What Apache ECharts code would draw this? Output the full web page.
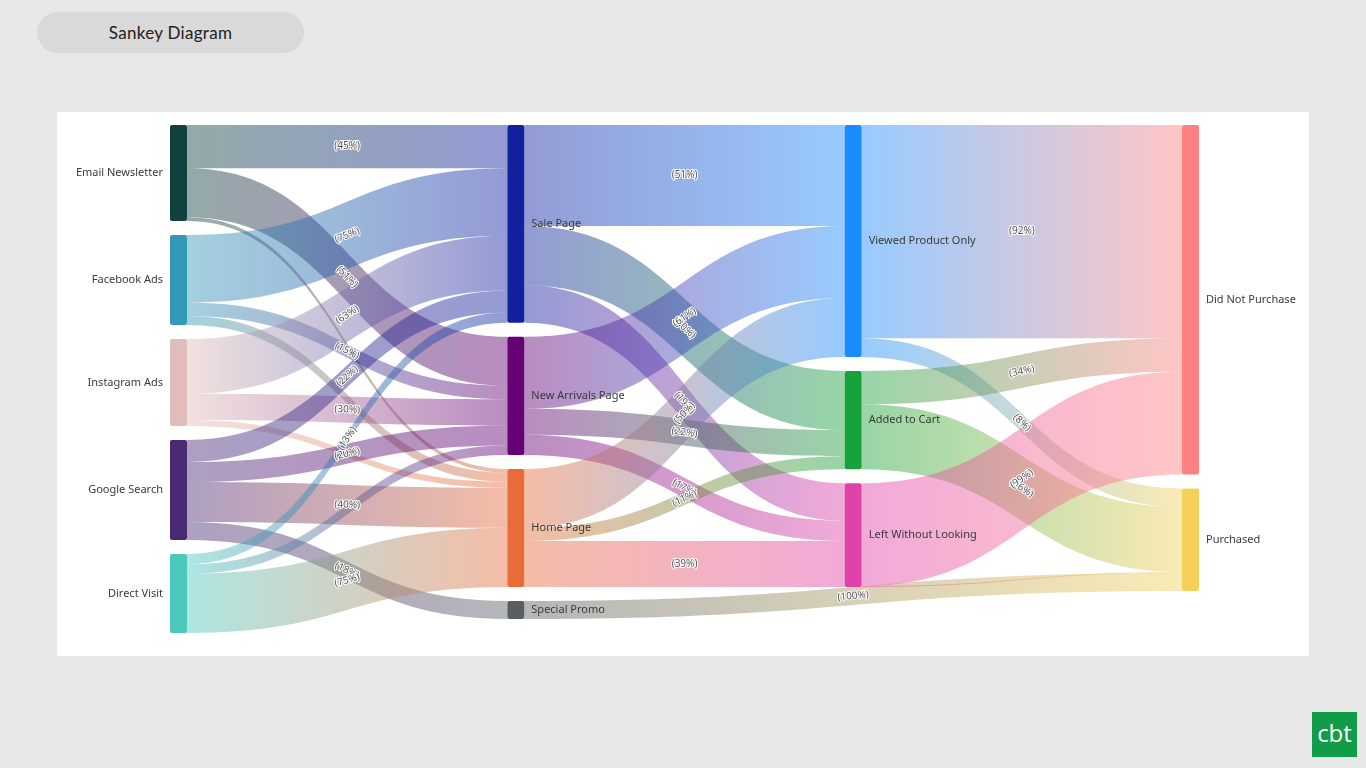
<!DOCTYPE html>
<html>
<head>
<meta charset="utf-8">
<title>Sankey Diagram</title>
<script src="https://cdn.jsdelivr.net/npm/echarts@6/dist/echarts.min.js"></script>
<style>
  html, body { margin: 0; padding: 0; background: #e8e8e8; width: 1366px; height: 768px; overflow: hidden; }
  .title-pill {
    position: absolute; left: 37px; top: 12px; width: 267px; height: 41px;
    border-radius: 21px; background: #d9d9d9;
    font-family: "Lato", "Open Sans", sans-serif; font-size: 17px; color: #222;
    display: flex; align-items: center; justify-content: center; letter-spacing: 0.3px;
  }
  .panel { position: absolute; left: 57px; top: 112px; width: 1252px; height: 544px; background: #fff; }
  .logo {
    position: absolute; left: 1312px; top: 712px; width: 45px; height: 45px; background: #119c48;
    color: #fff; font-family: "Open Sans", sans-serif; font-size: 24px; line-height: 42px; text-align: center;
  }
</style>
</head>
<body>
<div class="title-pill">Sankey Diagram</div>
<div class="panel" id="chart"></div>
<div class="logo">cbt</div>
<script>
// 节点
const nodeNames = ['Email Newsletter', 'Facebook Ads', 'Instagram Ads', 'Google Search', 'Direct Visit',
  'Sale Page', 'New Arrivals Page', 'Home Page', 'Special Promo',
  'Viewed Product Only', 'Added to Cart', 'Left Without Looking',
  'Did Not Purchase', 'Purchased']
const nodeColors = ['#10403f', '#3399b8', '#e0bdb8', '#4a2a74', '#4cc7bc',
  '#1121a0', '#650075', '#e86c3a', '#595e62',
  '#1a8cff', '#19a23b', '#e142a9',
  '#ff8080', '#f5d15a']

// 连线
const linkSources = ['Email Newsletter', 'Email Newsletter', 'Email Newsletter',
  'Facebook Ads', 'Facebook Ads', 'Facebook Ads',
  'Instagram Ads', 'Instagram Ads', 'Instagram Ads',
  'Google Search', 'Google Search', 'Google Search', 'Google Search',
  'Direct Visit', 'Direct Visit', 'Direct Visit',
  'Sale Page', 'Sale Page', 'Sale Page',
  'New Arrivals Page', 'New Arrivals Page', 'New Arrivals Page',
  'Home Page', 'Home Page', 'Home Page',
  'Special Promo',
  'Viewed Product Only', 'Viewed Product Only',
  'Added to Cart', 'Added to Cart',
  'Left Without Looking', 'Left Without Looking']
const linkTargets = ['Sale Page', 'New Arrivals Page', 'Home Page',
  'Sale Page', 'New Arrivals Page', 'Home Page',
  'Sale Page', 'New Arrivals Page', 'Home Page',
  'Sale Page', 'New Arrivals Page', 'Home Page', 'Special Promo',
  'Sale Page', 'New Arrivals Page', 'Home Page',
  'Viewed Product Only', 'Added to Cart', 'Left Without Looking',
  'Viewed Product Only', 'Added to Cart', 'Left Without Looking',
  'Viewed Product Only', 'Added to Cart', 'Left Without Looking',
  'Purchased',
  'Did Not Purchase', 'Purchased',
  'Did Not Purchase', 'Purchased',
  'Did Not Purchase', 'Purchased']
const linkValues = [432, 490, 38,
  675, 135, 90,
  548, 261, 61,
  220, 200, 400, 180,
  103, 95, 592,
  1009, 593, 376,
  720, 260, 201,
  590, 130, 461,
  180,
  2133, 186,
  334, 649,
  1028, 10]

// 小于这个值的连线不显示百分比
const labelMin = 100

const outTotals = {}
linkSources.forEach((s, i) => { outTotals[s] = (outTotals[s] || 0) + linkValues[i] })

const chart = echarts.init(document.getElementById('chart'))

function buildLinks(rotations) {
  return linkSources.map((s, i) => {
    const item = { source: s, target: linkTargets[i], value: linkValues[i] }
    if (rotations) item.edgeLabel = { rotate: rotations[i] }
    return item
  })
}

const option = {
  animation: false,
  series: [{
    type: 'sankey',
    left: 113, top: 13, width: 1029, height: 508,
    nodeWidth: 17,
    nodeGap: 14,
    layoutIterations: 0,
    draggable: false,
    emphasis: { disabled: true },
    data: nodeNames.map((n, i) => ({
      name: n,
      itemStyle: { color: nodeColors[i], borderWidth: 0, borderRadius: 2 }
    })),
    links: buildLinks(null),
    levels: [{ depth: 0, label: { position: 'left' } }],
    label: {
      position: 'right', distance: 7,
      fontFamily: 'Noto Sans', fontSize: 11, color: '#3a3a3a'
    },
    lineStyle: { color: 'gradient', opacity: 0.45, curveness: 0.5 },
    edgeLabel: {
      show: true,
      fontFamily: 'Noto Sans', fontSize: 10, color: '#555',
      textBorderColor: '#fff', textBorderWidth: 2,
      formatter: p => {
        const v = p.data.value
        if (v < labelMin) return ''
        return '(' + Math.round(v / outTotals[p.data.source] * 100) + '%)'
      }
    }
  }]
}
chart.setOption(option)

// 按连线中点的斜率旋转百分比标签
const graph = chart.getModel().getSeriesByIndex(0).getGraph()
const rotations = []
graph.eachEdge(e => {
  const n1 = e.node1.getLayout(), n2 = e.node2.getLayout(), el = e.getLayout()
  const x1 = n1.x + n1.dx, y1 = n1.y + el.sy + el.dy / 2
  const x2 = n2.x, y2 = n2.y + el.ty + el.dy / 2
  rotations[e.dataIndex] = -Math.atan2(2 * (y2 - y1), x2 - x1) * 180 / Math.PI
})
chart.setOption({ series: [{ links: buildLinks(rotations) }] })
</script>
</body>
</html>
